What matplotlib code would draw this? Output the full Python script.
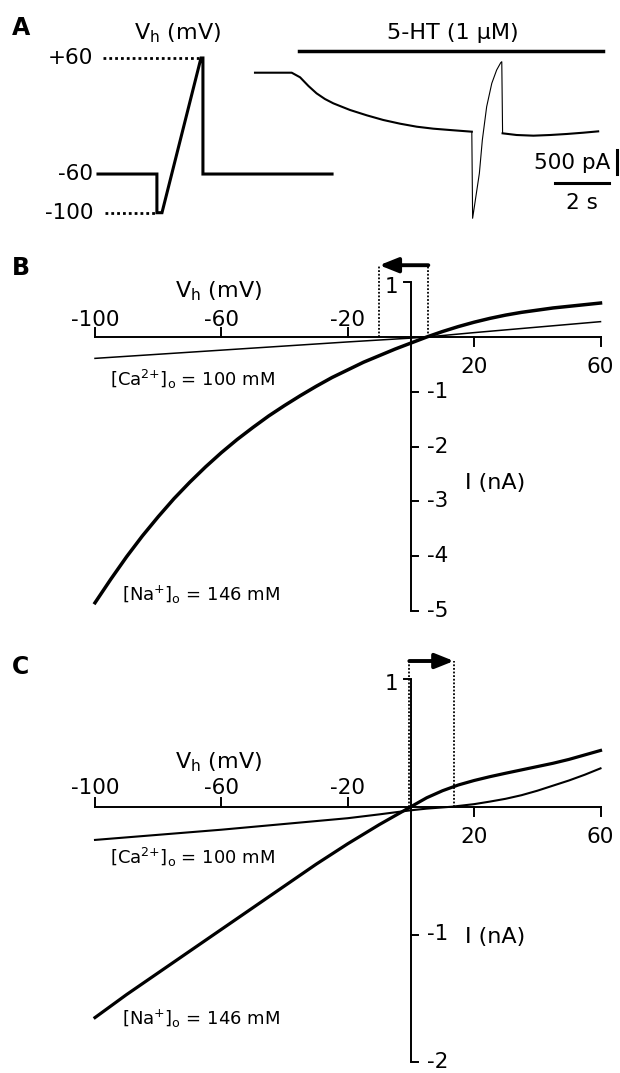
import matplotlib
matplotlib.use("Agg")
import matplotlib.pyplot as plt

plt.rcParams['font.family'] = ['DejaVu Sans']
plt.rcParams['mathtext.fontset'] = 'dejavusans'

W, H = 620, 1073

# panel A: voltage protocol (s, mV)
protocol_t = [0, 1.51, 1.51, 1.64, 2.64, 2.69, 2.69, 6.0]
protocol_mv = [-60, -60, -100, -100, 60, 60, -60, -60]
protocol_levels = [60, -60, -100]
protocol_labels = ['+60', '-60', '-100']

# panel A: membrane current during 5-HT (s, pA, relative to baseline)
trace_t = [0, 1.36, 1.67, 1.98, 2.28, 2.59, 2.90, 3.21, 3.52, 4.14, 4.75, 5.37, 5.99,
           6.60, 7.22, 8.03,
           8.06, 8.31, 8.42, 8.58, 8.77, 8.95, 9.10, 9.14,
           9.17, 9.69, 10.31, 10.93, 11.54, 12.16, 12.71]
trace_pa = [0, 0, -96, -277, -430, -548, -638, -708, -777, -888, -985, -1062, -1125,
            -1166, -1194, -1229,
            -3033, -2096, -1402, -708, -221, 56, 208, 229,
            -1263, -1298, -1312, -1298, -1277, -1250, -1222]
ramp_start, ramp_end = 15, 24
drug_on, drug_off = 1.63, 12.9

# panel B: I-V in 146 mM Na and 100 mM Ca (mV, nA)
na_b_v = [-100, -95, -90, -85, -80, -75, -70, -65, -60, -55, -50, -45, -40, -35, -30, -25,
          -20, -15, -10, -5, 0, 5, 10, 15, 20, 25, 30, 35, 40, 45, 50, 55, 60]
na_b_i = [-4.85, -4.42, -4.01, -3.63, -3.28, -2.95, -2.65, -2.37, -2.11, -1.87, -1.65, -1.44,
          -1.25, -1.07, -0.90, -0.74, -0.60, -0.46, -0.34, -0.22, -0.11, 0.0, 0.10, 0.19,
          0.27, 0.34, 0.40, 0.45, 0.49, 0.53, 0.56, 0.59, 0.62]
ca_b_v = [-100, -60, -20, 0, 5, 20, 40, 60]
ca_b_i = [-0.39, -0.24, -0.09, -0.02, 0.0, 0.08, 0.18, 0.28]

# panel C
na_c_v = [-100, -90, -80, -70, -60, -50, -40, -30, -20, -10, 0, 5, 10, 15, 20, 25, 30, 35,
          40, 45, 50, 55, 60]
na_c_i = [-1.65, -1.47, -1.30, -1.13, -0.96, -0.79, -0.62, -0.45, -0.29, -0.14, 0.0, 0.07,
          0.125, 0.17, 0.205, 0.235, 0.262, 0.288, 0.314, 0.34, 0.37, 0.405, 0.44]
ca_c_v = [-100, -80, -60, -40, -20, -10, 0, 5, 13, 20, 25, 30, 35, 40, 45, 50, 55, 60]
ca_c_i = [-0.26, -0.22, -0.18, -0.135, -0.09, -0.06, -0.028, -0.015, 0.0, 0.02, 0.04, 0.062,
          0.09, 0.125, 0.165, 0.205, 0.25, 0.30]

x_ticks_neg = [-100, -60, -20]
x_ticks_pos = [20, 60]
b_yticks = [-1, -2, -3, -4, -5]
c_yticks = [-1, -2]
b_shift = (5.5, -10)   # reversal potential shift, mV
c_shift = (-0.5, 13.6)

fig = plt.figure(figsize=(W / 100, H / 100), dpi=100)


def add_ax(x0, x1, y_top, y_bot, xlim, ylim):
    ax = fig.add_axes([x0 / W, 1 - y_bot / H, (x1 - x0) / W, (y_bot - y_top) / H])
    ax.set_xlim(xlim)
    ax.set_ylim(ylim)
    ax.axis('off')
    return ax


# ---- A, protocol
axp = add_ax(98, 334, 58, 212.7, (0, 6.05), (-100, 60))
axp.plot(protocol_t, protocol_mv, color='k', lw=2.2, solid_joinstyle='miter', clip_on=False)
axp.plot([0.13, 2.6], [60, 60], color='k', lw=2, ls=(0, (1, 1.1)), clip_on=False)
axp.plot([0.18, 1.5], [-100, -100], color='k', lw=2, ls=(0, (1, 1.1)), clip_on=False)
for lev, lab in zip(protocol_levels, protocol_labels):
    axp.text(-0.12, lev, lab, ha='right', va='center', fontsize=15.5)
axp.text(2.03, 86, r'V$_\mathrm{h}$ (mV)', ha='center', va='center', fontsize=16)
fig.text(12 / W, 1 - 28 / H, 'A', fontsize=17, fontweight='bold', va='center')

# ---- A, current trace
axt = add_ax(255, 606, 58.3, 221.5, (0, 13), (-3100, 300))
axt.plot(trace_t[:ramp_start + 1], trace_pa[:ramp_start + 1], color='k', lw=1.5, clip_on=False)
axt.plot(trace_t[ramp_start:ramp_end + 1], trace_pa[ramp_start:ramp_end + 1], color='k', lw=0.8, clip_on=False)
axt.plot(trace_t[ramp_end:], trace_pa[ramp_end:], color='k', lw=1.5, clip_on=False)
axt.plot([drug_on, drug_off], [452, 452], color='k', lw=2.5, clip_on=False)
axt.text(7.33, 827, '5-HT (1 μM)', ha='center', va='center', fontsize=16)
# scale bars
axt.plot([13.4, 13.4], [-1610, -2110], color='k', lw=2.2, clip_on=False)
axt.plot([11.1, 13.1], [-2298, -2298], color='k', lw=2.2, clip_on=False)
axt.text(13.15, -1883, '500 pA', ha='right', va='center', fontsize=15.5)
axt.text(12.1, -2715, '2 s', ha='center', va='center', fontsize=15.5)


def iv_panel(ax, ymin, yticks, px_per_na, na_v, na_i, ca_v, ca_i, shift, top,
             na_lw, ca_lw, vh_y, inA_y, ca_y, na_y, lab_up, lab_dn):
    tick_y = 9 / px_per_na
    tick_x = 7 / 3.158
    ax.plot([-100, 60], [0, 0], color='k', lw=1.4, clip_on=False)
    ax.plot([0, 0], [ymin, 1], color='k', lw=1.4, clip_on=False, solid_capstyle='butt')
    for v in x_ticks_neg:
        ax.plot([v, v], [0, tick_y], color='k', lw=1.4, clip_on=False)
        ax.text(v, lab_up, str(v), ha='center', va='center', fontsize=15.5)
    for v in x_ticks_pos:
        ax.plot([v, v], [0, -tick_y], color='k', lw=1.4, clip_on=False)
        ax.text(v, lab_dn, str(v), ha='center', va='center', fontsize=15.5)
    for i in yticks:
        ax.plot([0, tick_x], [i, i], color='k', lw=1.4, clip_on=False)
        ax.text(5.2, i, str(i), ha='left', va='center', fontsize=15.5)
    ax.plot([-tick_x, 0], [1, 1], color='k', lw=1.4, clip_on=False)
    ax.text(-4.1, 1 - 5 / px_per_na, '1', ha='right', va='center', fontsize=15.5)

    ax.plot(ca_v, ca_i, color='k', lw=ca_lw, clip_on=False)
    ax.plot(na_v, na_i, color='k', lw=na_lw, clip_on=False)

    # dotted box and arrow marking the shift of the reversal potential
    for v in shift:
        ax.plot([v, v], [0, top], color='k', lw=1.3, ls=(0, (1, 1)), clip_on=False)
    ax.annotate('', xy=(shift[1], top), xytext=(shift[0], top), annotation_clip=False,
                arrowprops=dict(arrowstyle='-|>,head_length=0.8,head_width=0.32',
                                lw=2.8, color='k', shrinkA=0, shrinkB=0, mutation_scale=14))

    ax.text(-61, vh_y, r'V$_\mathrm{h}$ (mV)', ha='center', va='center', fontsize=16)
    ax.text(17, inA_y, 'I (nA)', ha='left', va='center', fontsize=16)
    ax.text(-95.3, ca_y, r'[Ca$^{2{+}}$]$_\mathrm{o}$ = 100 mM', ha='left', va='center', fontsize=13)
    ax.text(-91.5, na_y, r'[Na$^{{+}}$]$_\mathrm{o}$ = 146 mM', ha='left', va='center', fontsize=13)


# ---- B
axb = add_ax(95, 600.5, 282.2, 611, (-100, 60), (-5, 1))
iv_panel(axb, -5, b_yticks, 54.8, na_b_v, na_b_i, ca_b_v, ca_b_i, b_shift, 1.31,
         2.5, 1.1, 0.83, -2.66, -0.78, -4.71, 0.31, -0.55)
fig.text(12 / W, 1 - 268 / H, 'B', fontsize=17, fontweight='bold', va='center')

# ---- C
axc = add_ax(95, 600.5, 678.9, 1062.3, (-100, 60), (-2, 1))
iv_panel(axc, -2, c_yticks, 127.8, na_c_v, na_c_i, ca_c_v, ca_c_i, c_shift, 1.14,
         2.3, 1.5, 0.35, -1.02, -0.40, -1.66, 0.15, -0.235)
fig.text(12 / W, 1 - 667 / H, 'C', fontsize=17, fontweight='bold', va='center')

fig.savefig('out.png', dpi=100)
